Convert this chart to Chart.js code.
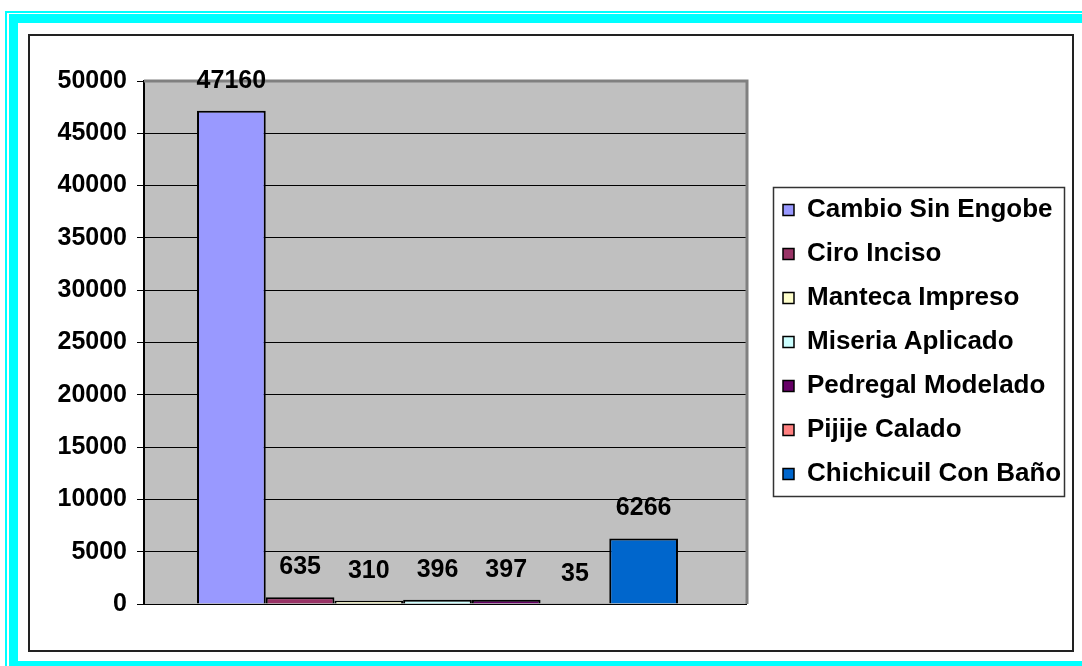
<!DOCTYPE html>
<html>
<head>
<meta charset="utf-8">
<script src="https://cdn.jsdelivr.net/npm/chart.js@4.4.1/dist/chart.umd.min.js"></script>
<style>
html,body{margin:0;padding:0;background:#fff;width:1082px;height:666px;overflow:hidden;}
.b{position:absolute;box-sizing:border-box;}
#c{position:absolute;left:0;top:0;}
</style>
</head>
<body>
<div class="b" style="left:5px;top:11px;width:1100px;height:700px;border:2px solid #00FFFF;"></div>
<div class="b" style="left:9px;top:14px;width:1090px;height:700px;border:9px solid #00FFFF;border-bottom:none;"></div>
<div class="b" style="left:9px;top:661px;width:1090px;height:9px;background:#00FFFF;"></div>
<div class="b" style="left:28px;top:34px;width:1046px;height:618px;border:2px solid #222;"></div>
<canvas id="c" width="1082" height="666"></canvas>
<script>
const categories = [""];
const seriesNames = ["Cambio Sin Engobe","Ciro Inciso","Manteca Impreso","Miseria Aplicado","Pedregal Modelado","Pijije Calado","Chichicuil Con Baño"];
const seriesValues = [47160, 635, 310, 396, 397, 35, 6266];
const seriesColors = ["#9999FF","#993366","#FFFFCC","#CCFFFF","#660066","#FF8080","#0066CC"];
const yTicks = [0,5000,10000,15000,20000,25000,30000,35000,40000,45000,50000];

const FONT = "Liberation Sans, Arial, sans-serif";
const FSIZE = 25;
const LSIZE = 26;

// Excel-like asymmetric category band: widen the hidden x scale on the left
const xBand = {
  id:'xBand',
  afterLayout(chart){
    const x = chart.scales.x;
    x.left = x.left - 16;
    x.configure();
  }
};

const plotBg = {
  id:'plotBg',
  beforeDraw(chart){
    const {ctx, chartArea:a} = chart;
    ctx.save();
    ctx.fillStyle = '#C0C0C0';
    ctx.fillRect(a.left, a.top, a.right-a.left, a.bottom-a.top);
    ctx.restore();
  },
  beforeDatasetsDraw(chart){
    const {ctx, chartArea:a} = chart;
    ctx.save();
    ctx.strokeStyle = '#808080';
    ctx.lineWidth = 3;
    ctx.beginPath();
    ctx.moveTo(a.left, a.top);
    ctx.lineTo(a.right, a.top);
    ctx.lineTo(a.right, a.bottom);
    ctx.stroke();
    ctx.restore();
  }
};

const valueLabels = {
  id:'valueLabels',
  afterDatasetsDraw(chart){
    const ctx = chart.ctx;
    ctx.save();
    ctx.font = "bold " + FSIZE + "px " + FONT;
    ctx.fillStyle = '#000';
    ctx.textAlign = 'center';
    ctx.textBaseline = 'middle';
    chart.data.datasets.forEach((ds,i)=>{
      const el = chart.getDatasetMeta(i).data[0];
      ctx.fillText(String(ds.data[0]), el.x, el.y - 30);
    });
    ctx.restore();
  }
};

const boxLegend = {
  id:'boxLegend',
  afterDraw(chart){
    const ctx = chart.ctx;
    ctx.save();
    ctx.fillStyle = '#fff';
    ctx.fillRect(773, 187, 291, 309);
    ctx.strokeStyle = '#333';
    ctx.lineWidth = 1.5;
    ctx.strokeRect(773.5, 187.5, 291, 309);
    ctx.font = "bold " + LSIZE + "px " + FONT;
    ctx.textBaseline = 'middle';
    ctx.textAlign = 'left';
    chart.data.datasets.forEach((ds,i)=>{
      const y = 210 + i*44;
      ctx.fillStyle = ds.backgroundColor;
      ctx.fillRect(783, y-5.5, 11, 11);
      ctx.strokeStyle = '#000';
      ctx.lineWidth = 1.5;
      ctx.strokeRect(783, y-5.5, 11, 11);
      ctx.fillStyle = '#000';
      ctx.fillText(ds.label, 807, y);
    });
    ctx.restore();
  }
};

new Chart(document.getElementById('c'), {
  type:'bar',
  data:{
    labels: categories,
    datasets: seriesNames.map((n,i)=>({
      label:n,
      data:[seriesValues[i]],
      backgroundColor: seriesColors[i],
      borderColor:'#000',
      borderWidth:2,
      categoryPercentage:0.777,
      barPercentage:1.0
    }))
  },
  options:{
    responsive:false,
    animation:false,
    devicePixelRatio:1,
    layout:{padding:{left:34,top:81,right:335,bottom:62}},
    plugins:{legend:{display:false},tooltip:{enabled:false}},
    scales:{
      x:{display:false},
      y:{
        min:0,max:50000,
        afterFit(s){ s.width = 110; },
        afterBuildTicks(s){ s.ticks = yTicks.map(v=>({value:v})); },
        ticks:{color:'#000',font:{family:FONT,size:FSIZE,weight:'bold'},padding:10,callback:(v)=>String(v)},
        grid:{color:'#000',lineWidth:1,tickLength:7,drawTicks:true},
        border:{color:'#000',width:2}
      }
    }
  },
  plugins:[xBand,plotBg,valueLabels,boxLegend]
});
</script>
</body>
</html>
